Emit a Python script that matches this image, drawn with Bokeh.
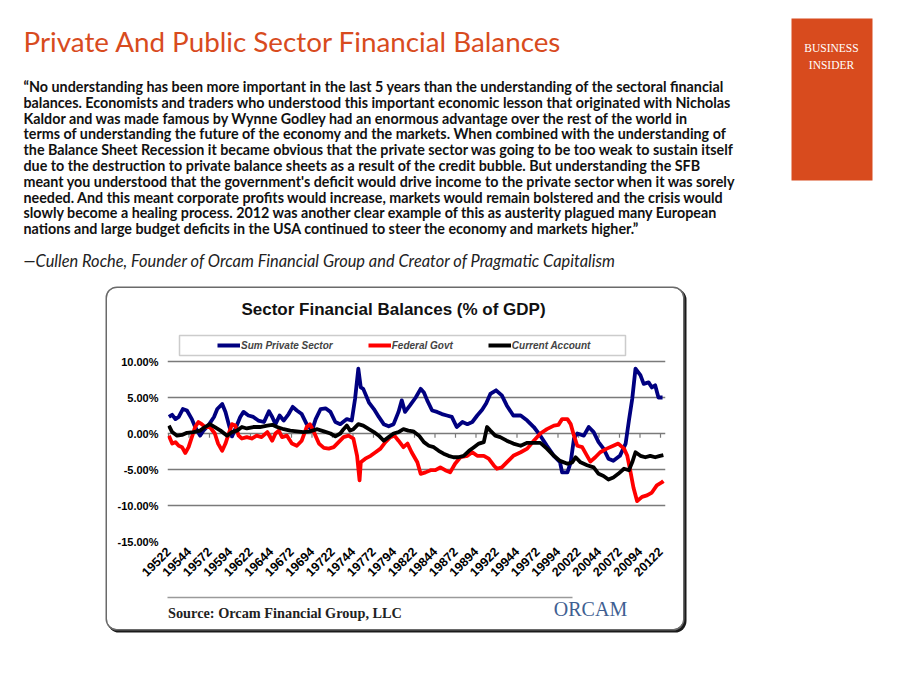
import math
from bokeh.plotting import figure
from bokeh.models import (Range1d, FixedTicker, Label, BoxAnnotation, Legend,
                          LegendItem, Spacer)
from bokeh.layouts import column, row
from bokeh.embed import file_html
from bokeh.resources import INLINE
from bokeh.core.properties import value

# ---------------- data ----------------
private_t = [1952.3, 1952.7, 1953.1, 1953.5, 1954.0, 1954.5, 1955.1, 1955.5, 1956.1, 1956.5,
             1957.1, 1957.8, 1958.2, 1958.8, 1959.2, 1959.6, 1960.0, 1960.5, 1961.0, 1961.4,
             1962.0, 1962.6, 1963.2, 1963.9, 1964.5, 1964.9, 1965.3, 1965.8, 1966.3, 1966.9,
             1967.4, 1967.9, 1968.5, 1969.1, 1969.75, 1970.2, 1970.8, 1971.4, 1972.0, 1972.6,
             1973.2, 1974.0, 1974.6, 1975.0, 1975.4, 1975.7, 1976.0, 1976.7, 1977.3, 1977.9,
             1978.5, 1979.1, 1979.7, 1980.3, 1980.7, 1981.1, 1981.7, 1982.4, 1983.0, 1983.4,
             1983.8, 1984.4, 1985.0, 1985.6, 1986.2, 1986.8, 1987.4, 1988.1, 1988.7, 1989.3,
             1989.9, 1990.5, 1991.0, 1991.5, 1992.2, 1992.9, 1993.5, 1994.3, 1995.2, 1996.0,
             1996.8, 1997.6, 1998.4, 1999.25, 2000.0, 2000.25, 2000.9, 2001.3, 2001.7, 2002.1,
             2002.9, 2003.5, 2004.1, 2004.7, 2005.3, 2005.9, 2006.5, 2007.3, 2008.0, 2008.4,
             2008.8, 2009.2, 2009.8, 2010.2, 2010.8, 2011.2, 2011.6, 2012.0, 2012.5]
private_v = [2.3, 2.6, 2.0, 2.3, 3.4, 3.2, 2.0, 0.9, -0.3, 0.4,
             1.1, 2.3, 3.4, 4.1, 3.0, 1.3, -0.4, 0.9, 2.3, 3.0,
             2.5, 2.3, 1.8, 1.6, 3.1, 2.3, 1.3, 2.5, 1.8, 2.7,
             3.7, 3.2, 2.7, 1.3, 0.4, 2.0, 3.4, 3.5, 3.0, 1.6,
             1.3, 2.0, 1.8, 4.8, 9.0, 6.4, 6.2, 4.3, 3.4, 2.3,
             1.3, 1.0, 1.3, 3.0, 4.6, 3.0, 3.9, 5.0, 6.2, 5.7,
             4.6, 3.2, 3.0, 2.7, 2.5, 2.3, 0.9, 1.6, 1.3, 1.6,
             2.5, 3.3, 4.2, 5.5, 6.0, 5.3, 3.9, 2.5, 2.5, 1.8,
             0.9, -0.3, -1.7, -3.1, -4.0, -5.4, -5.4, -4.0, -0.7, 0.0,
             -0.3, 0.9, 0.2, -1.2, -2.1, -3.5, -3.8, -3.1, -1.4, 1.8,
             4.8, 9.0, 8.1, 6.9, 7.1, 6.4, 6.7, 5.0, 5.0]

federal_t = [1952.3, 1952.7, 1953.1, 1953.5, 1953.9, 1954.3, 1954.7, 1955.1, 1955.5, 1955.9,
             1956.3, 1956.7, 1957.3, 1957.9, 1958.3, 1958.8, 1959.2, 1959.6, 1960.0, 1960.4,
             1960.8, 1961.2, 1961.8, 1962.4, 1963.0, 1963.6, 1964.3, 1964.9, 1965.3, 1965.7,
             1966.1, 1966.7, 1967.3, 1967.9, 1968.5, 1969.1, 1969.5, 1969.9, 1970.6, 1971.2,
             1971.8, 1972.4, 1973.0, 1973.6, 1974.2, 1974.8, 1975.25, 1975.55, 1975.7, 1976.25,
             1976.9, 1977.5, 1978.1, 1978.7, 1979.3, 1979.8, 1980.3, 1980.9, 1981.4, 1981.9,
             1982.6, 1983.0, 1983.6, 1984.2, 1984.8, 1985.4, 1986.0, 1986.6, 1987.2, 1987.85,
             1988.7, 1989.3, 1989.9, 1990.7, 1991.3, 1991.9, 1992.3, 1992.9, 1993.5, 1994.3,
             1995.2, 1996.0, 1996.8, 1997.6, 1998.4, 1999.25, 1999.8, 2000.25, 2000.9, 2001.3,
             2001.7, 2002.1, 2002.7, 2003.3, 2003.7, 2004.3, 2004.9, 2005.7, 2006.5, 2007.1,
             2007.8, 2008.2, 2008.55, 2008.95, 2009.4, 2010.0, 2010.6, 2011.2, 2011.8, 2012.4,
             2012.6]
federal_v = [-0.3, -1.4, -1.2, -1.7, -1.9, -2.7, -1.9, -0.5, 0.9, 1.6,
             1.3, 0.9, 0.9, 0.0, -1.4, -2.4, -1.4, 0.0, 1.3, 1.1,
             -0.3, -0.7, -0.5, -0.7, -0.3, -0.5, 0.2, -1.0, 0.0, 0.4,
             -0.5, -0.3, -1.4, -1.7, -1.0, 0.9, 1.3, 0.4, -1.4, -2.0,
             -2.1, -1.9, -1.2, -0.5, -0.3, -0.7, -3.1, -6.5, -4.0, -3.5,
             -3.1, -2.6, -2.1, -1.2, -0.5, -0.3, -1.0, -1.9, -1.4, -2.6,
             -4.0, -5.6, -5.4, -5.1, -5.1, -4.7, -5.1, -5.4, -4.2, -3.3,
             -3.1, -2.6, -3.1, -3.1, -3.5, -4.4, -4.9, -4.7, -4.0, -3.1,
             -2.6, -2.1, -1.0, 0.0, 0.6, 1.1, 1.2, 2.0, 2.0, 1.3,
             -0.3, -1.7, -1.9, -3.1, -3.9, -3.3, -2.6, -2.1, -1.7, -1.4,
             -2.1, -3.1, -5.1, -7.5, -9.4, -8.8, -8.6, -8.2, -7.2, -6.8,
             -6.6]

current_t = [1952.3, 1952.7, 1953.3, 1953.9, 1954.5, 1955.3, 1956.1, 1956.7, 1957.3, 1957.9,
             1958.6, 1959.4, 1960.0, 1960.6, 1961.2, 1961.8, 1962.6, 1963.4, 1964.3, 1964.9,
             1965.5, 1966.3, 1967.1, 1967.9, 1968.7, 1969.5, 1970.4, 1971.2, 1972.0, 1972.6,
             1973.2, 1973.6, 1974.0, 1974.4, 1974.8, 1975.4, 1976.0, 1976.7, 1977.3, 1977.9,
             1978.5, 1979.1, 1979.7, 1980.3, 1980.9, 1981.5, 1982.1, 1982.8, 1983.4, 1984.0,
             1984.6, 1985.2, 1985.8, 1986.4, 1987.0, 1987.6, 1988.25, 1988.9, 1989.5, 1990.1,
             1990.7, 1991.1, 1991.5, 1992.1, 1992.7, 1993.5, 1994.3, 1995.2, 1996.0, 1996.8,
             1997.6, 1998.4, 1999.25, 2000.0, 2000.9, 2001.5, 2001.9, 2002.5, 2003.3, 2004.1,
             2004.7, 2005.3, 2005.9, 2006.5, 2007.1, 2007.8, 2008.4, 2008.8, 2009.2, 2009.8,
             2010.4, 2011.0, 2011.6, 2012.2, 2012.6]
current_v = [1.1, 0.2, -0.3, -0.2, 0.1, 0.2, 0.4, 0.9, 1.3, 0.9,
             0.4, -0.3, 0.2, 0.4, 0.9, 0.7, 0.9, 0.9, 1.1, 1.2,
             0.9, 0.6, 0.4, 0.3, 0.2, 0.3, 0.6, 0.3, 0.0, -0.4,
             0.0, 0.6, 1.1, 0.4, 0.6, 1.3, 1.1, 0.6, 0.2, -0.3,
             -1.0, -0.5, 0.0, 0.2, 0.6, 0.4, 0.3, -0.3, -1.2, -1.7,
             -1.9, -2.4, -2.8, -3.1, -3.3, -3.3, -3.1, -2.4, -1.9, -1.4,
             -1.2, 0.9, 0.4, -0.3, -0.5, -1.0, -1.4, -1.7, -1.3, -1.3,
             -1.3, -2.1, -3.1, -3.8, -4.2, -4.0, -3.3, -4.0, -4.4, -4.7,
             -5.6, -5.9, -6.4, -6.1, -5.6, -4.9, -5.1, -4.0, -2.6, -3.1,
             -3.3, -3.1, -3.3, -3.1, -3.0]

series_names = ["Sum Private Sector", "Federal Govt", "Current Account"]
series_colors = ["#000080", "#FF0000", "#000000"]

x_ticks = [1952.25 + 2.5 * i for i in range(25)]
x_tick_labels = ["19522", "19544", "19572", "19594", "19622", "19644", "19672", "19694",
                 "19722", "19744", "19772", "19794", "19822", "19844", "19872", "19894",
                 "19922", "19944", "19972", "19994", "20022", "20044", "20072", "20094",
                 "20122"]
y_ticks = [-15, -10, -5, 0, 5, 10]
y_tick_labels = ["-15.00%", "-10.00%", "-5.00%", "0.00%", "5.00%", "10.00%"]

page_title = "Private And Public Sector Financial Balances"
quote_lines = [
    "\u201cNo understanding has been more important in the last 5 years than the understanding of the sectoral financial",
    "balances.  Economists and traders who understood this important economic lesson that originated with Nicholas",
    "Kaldor and was made famous by Wynne Godley had an enormous advantage over the rest of the world in",
    "terms of understanding the future of the economy and the markets.  When combined with the understanding of",
    "the Balance Sheet Recession it became obvious that the private sector was going to be too weak to sustain itself",
    "due to the destruction to private balance sheets as a result of the credit bubble.  But understanding the SFB",
    "meant you understood that the government's deficit would drive income to the private sector when it was sorely",
    "needed.  And this meant corporate profits would increase, markets would remain bolstered and the crisis would",
    "slowly become a healing process.  2012 was another clear example of this as austerity plagued many European",
    "nations and large budget deficits in the USA continued to steer the economy and markets higher.\u201d",
]
attribution = "\u2014Cullen Roche, Founder of Orcam Financial Group and Creator of Pragmatic Capitalism"
chart_title = "Sector Financial Balances (% of GDP)"
source_text = "Source: Orcam Financial Group, LLC"

ORANGE = "#D84B1E"
BODY_FONT = "Lato"

# ---------------- header (page text) ----------------
header = figure(width=884, height=288, x_range=Range1d(0, 884), y_range=Range1d(288, 0),
                output_backend="svg", toolbar_location=None, title=None, min_border=0)
header.axis.visible = False
header.grid.visible = False
header.outline_line_color = None
header.background_fill_color = "white"
header.border_fill_color = "white"

header.text(x=[23], y=[41], text=[page_title], text_font=value(BODY_FONT),
            text_font_size="27.8px", text_color=ORANGE, text_baseline="middle")
header.text(x=[23] * len(quote_lines), y=[86 + 15.8 * i for i in range(len(quote_lines))],
            text=quote_lines, text_font=value(BODY_FONT), text_font_size="14.3px",
            text_font_style="bold", text_color="#111111", text_baseline="middle")
header.text(x=[23], y=[260], text=[attribution], text_font=value(BODY_FONT),
            text_font_size="16.4px", text_font_style="italic", text_color="#222222",
            text_baseline="middle")
header.quad(left=[791], right=[872], top=[18], bottom=[180], fill_color=ORANGE, line_color=None)
header.text(x=[831, 831], y=[47, 64], text=["BUSINESS", "INSIDER"],
            text_font=value("Liberation Serif"), text_font_size="11.5px", text_color="white",
            text_align="center", text_baseline="middle")

# ---------------- chart ----------------
chart = figure(width=576, height=302, x_range=Range1d(1952.13, 2012.86),
               y_range=Range1d(-15, 20.14), output_backend="svg", toolbar_location=None,
               title=None, min_border_left=60, min_border_right=18, min_border_top=0,
               min_border_bottom=49)
chart.outline_line_color = None
chart.background_fill_color = "white"
chart.border_fill_color = "white"
chart.xgrid.visible = False

chart.yaxis.ticker = FixedTicker(ticks=y_ticks)
chart.yaxis.major_label_overrides = dict(zip(y_ticks, y_tick_labels))
chart.yaxis.axis_line_color = None
chart.yaxis.major_tick_line_color = None
chart.yaxis.minor_tick_line_color = None
chart.yaxis.major_tick_out = 0
chart.yaxis.major_tick_in = 0
chart.yaxis.major_label_standoff = 9
chart.yaxis.major_label_text_font = "Liberation Sans"
chart.yaxis.major_label_text_font_style = "bold"
chart.yaxis.major_label_text_font_size = "11px"
chart.yaxis.major_label_text_color = "#000000"
chart.ygrid.ticker = FixedTicker(ticks=y_ticks)
chart.ygrid.grid_line_color = "#7a7a7a"
chart.ygrid.grid_line_width = 1.5

chart.xaxis.ticker = FixedTicker(ticks=x_ticks)
chart.xaxis.major_label_overrides = dict(zip(x_ticks, x_tick_labels))
chart.xaxis.major_label_orientation = math.pi / 4
chart.xaxis.axis_line_color = None
chart.xaxis.major_tick_line_color = None
chart.xaxis.minor_tick_line_color = None
chart.xaxis.major_tick_out = 0
chart.xaxis.major_tick_in = 0
chart.xaxis.major_label_standoff = 8
chart.xaxis.major_label_text_font = "Liberation Sans"
chart.xaxis.major_label_text_font_style = "bold"
chart.xaxis.major_label_text_font_size = "12.5px"
chart.xaxis.major_label_text_color = "#000000"

# small tick marks on the zero line
chart.segment(x0=x_ticks, y0=[0] * len(x_ticks), x1=x_ticks, y1=[-0.6] * len(x_ticks),
              line_color="#7a7a7a", line_width=1.2)

renderers = []
for t, v, c in zip([private_t, federal_t, current_t], [private_v, federal_v, current_v],
                   series_colors):
    r = chart.line(t, v, line_color=c, line_width=3.8, line_join="round")
    renderers.append(r)

# legend box + legend
chart.add_layout(BoxAnnotation(left=12, right=458, bottom=186, top=206,
                               left_units="screen", right_units="screen",
                               bottom_units="screen", top_units="screen",
                               fill_color="white", fill_alpha=1, line_color="#555555",
                               line_width=1.5))
legend = Legend(items=[LegendItem(label=n, renderers=[r]) for n, r in zip(series_names, renderers)],
                orientation="horizontal", location=(50, 186), padding=0, margin=0,
                spacing=35, glyph_width=23, glyph_height=20, label_height=20,
                label_standoff=1, label_text_font="Liberation Sans",
                label_text_font_size="10px", label_text_font_style="bold italic",
                border_line_color=None, background_fill_alpha=0)
chart.add_layout(legend)

chart.add_layout(Label(x=226, y=232, x_units="screen", y_units="screen", text=chart_title,
                       text_align="center", text_baseline="middle",
                       text_font="Liberation Sans", text_font_style="bold",
                       text_font_size="17px", text_color="#111111"))

# ---------------- footer of the chart box ----------------
# (its frame is aligned with the chart's frame: canvas x 60..558)
footer = figure(width=576, height=39, x_range=Range1d(60, 558), y_range=Range1d(39, 0),
                output_backend="svg", toolbar_location=None, title=None, min_border=0)
footer.axis.visible = False
footer.grid.visible = False
footer.outline_line_color = None
footer.background_fill_color = "white"
footer.border_fill_color = "white"
footer.segment(x0=[58], y0=[7], x1=[465], y1=[7], line_color="#9a9a9a", line_width=1.3)
footer.text(x=[60.5], y=[22], text=[source_text], text_font=value("Liberation Serif"),
            text_font_style="bold", text_font_size="14.3px", text_color="#222222",
            text_baseline="middle")
footer.text(x=[483], y=[18], text=["ORCAM"], text_font=value("Liberation Serif"),
            text_font_size="20px", text_color="#3F5F92", text_align="center",
            text_baseline="middle")

box = column(chart, footer,
             styles={"border-radius": "10px", "overflow": "hidden",
                     "box-shadow": "0 0 0 1.5px #6a6a6a, 2px 2px 0 1.5px #1a1a1a"})

layout = column(header, row(Spacer(width=107, height=341), box))

open("out.html", "w").write(file_html(layout, INLINE))
